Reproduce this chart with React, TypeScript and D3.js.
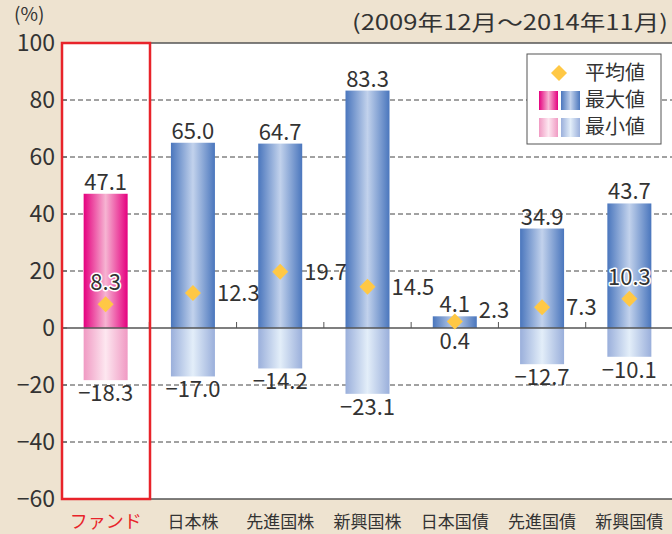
import React from 'react';
import * as d3 from 'd3';

const categories = ['ファンド', '日本株', '先進国株', '新興国株', '日本国債', '先進国債', '新興国債'];
const maxVals = [47.1, 65.0, 64.7, 83.3, 4.1, 34.9, 43.7];
const minVals = [-18.3, -17.0, -14.2, -23.1, 0.4, -12.7, -10.1];
const meanVals = [8.3, 12.3, 19.7, 14.5, 2.3, 7.3, 10.3];
const yTicks = [100, 80, 60, 40, 20, 0, -20, -40, -60];

const W = 672, H = 534;
const L = 62, R = 673, T = 43, B = 499;
const FONT = "'Noto Sans CJK JP', 'Noto Sans', sans-serif";

const fmt = (v: number) => (v < 0 ? '−' + Math.abs(v).toFixed(1) : v.toFixed(1));

export default function App() {
  const x = d3.scaleBand<string>().domain(categories).range([L, R]);
  const y = d3.scaleLinear().domain([-60, 100]).range([B, T]);
  const bw = 44;
  const y0 = y(0);
  const diamond = (cx: number, cy: number, r: number) =>
    `M${cx},${cy - r}L${cx + r},${cy}L${cx},${cy + r}L${cx - r},${cy}Z`;

  const grad = (id: string, edge: string, mid: string) => (
    <linearGradient id={id} x1="0" x2="1" y1="0" y2="0">
      <stop offset="0" stopColor={edge} />
      <stop offset="0.5" stopColor={mid} />
      <stop offset="1" stopColor={edge} />
    </linearGradient>
  );

  return (
    <svg width={W} height={H} style={{ position: 'absolute', left: 0, top: 0, display: 'block' }}>
      <defs>
        {grad('bmax', '#4A76BD', '#C2D2EC')}
        {grad('pmax', '#E5007F', '#F6B4D2')}
        {grad('bmin', '#9AAFDB', '#E3EEF9')}
        {grad('pmin', '#F09AC3', '#FDE7F0')}
      </defs>
      <rect x={0} y={0} width={W} height={H} fill="#EEE3D0" />
      <rect x={L} y={T} width={R - L} height={B - T} fill="#fff" />
      {/* gridlines */}
      {yTicks.filter(t => t !== 0 && t !== 100 && t !== -60).map(t => (
        <line key={t} x1={L} x2={R} y1={y(t)} y2={y(t)} stroke="#444" strokeWidth={1} strokeDasharray="5,3" />
      ))}
      {/* frame top / bottom */}
      <line x1={L} x2={R} y1={T} y2={T} stroke="#555" strokeWidth={1.5} />
      <line x1={L} x2={R} y1={B} y2={B} stroke="#555" strokeWidth={1.5} />
      {/* left ticks */}
      {yTicks.map(t => (
        <line key={'lt' + t} x1={L} x2={L + 5} y1={y(t)} y2={y(t)} stroke="#555" strokeWidth={1} />
      ))}
      {/* y labels */}
      {yTicks.map(t => (
        <text key={'yl' + t} x={55} y={y(t)} dy="0.36em" textAnchor="end" fontFamily={FONT} fontSize={23} fill="#333">
          {t < 0 ? '−' + Math.abs(t) : t}
        </text>
      ))}
      <text x={14} y={14} dy="0.36em" fontFamily={FONT} fontSize={19} fill="#333">(%)</text>
      <text x={352} y={22} dy="0.36em" textLength={316} lengthAdjust="spacingAndGlyphs" fontFamily={FONT} fontSize={21} fill="#333">(2009年12月～2014年11月)</text>
      {/* bars */}
      {categories.map((c, i) => {
        const cx = (x(c) as number) + x.bandwidth() / 2;
        const isFund = i === 0;
        const minV = minVals[i];
        return (
          <g key={c}>
            <rect x={cx - bw / 2} width={bw} y={Math.min(y(minV), y0)} height={Math.abs(y(minV) - y0)} fill={`url(#${isFund ? 'pmin' : 'bmin'})`} />
            <rect x={cx - bw / 2} width={bw} y={y(maxVals[i])} height={y0 - y(maxVals[i])} fill={`url(#${isFund ? 'pmax' : 'bmax'})`} />
          </g>
        );
      })}
      {/* zero line */}
      <line x1={L} x2={R} y1={y0} y2={y0} stroke="#555" strokeWidth={1.5} />
      {categories.slice(1).map((c) => (
        <line key={'zt' + c} x1={x(c) as number} x2={x(c) as number} y1={y0} y2={y0 - 6} stroke="#555" strokeWidth={1} />
      ))}
      {/* labels */}
      {categories.map((c, i) => {
        const cx = (x(c) as number) + x.bandwidth() / 2;
        const inside = i === 0 || i === categories.length - 1;
        const my = y(meanVals[i]);
        const minLabelY = Math.max(y(minVals[i]), y0);
        return (
          <g key={'lab' + c} fontFamily={FONT} fontSize={22} fill="#333">
            <text x={cx} y={y(maxVals[i]) - 4} textAnchor="middle">{fmt(maxVals[i])}</text>
            <text x={cx} y={minLabelY + 21} textAnchor="middle">{fmt(minVals[i])}</text>
            <path d={diamond(cx, my, 8)} fill="#FFC845" />
            {inside ? (
              <text x={cx} y={my - 22} dy="0.36em" textAnchor="middle" stroke="#fff" strokeWidth={3} paintOrder="stroke" strokeLinejoin="round">
                {fmt(meanVals[i])}
              </text>
            ) : (
              <text x={cx + bw / 2 + 2} y={Math.min(my, y0 - 18)} dy="0.36em" textAnchor="start">{fmt(meanVals[i])}</text>
            )}
          </g>
        );
      })}
      {/* category labels */}
      {categories.map((c, i) => (
        <text key={'cl' + c} x={(x(c) as number) + x.bandwidth() / 2} y={522} dy="0.36em" textAnchor="middle" fontFamily={FONT} fontSize={i === 0 ? 18 : 17} fill={i === 0 ? '#E8232A' : '#333'}>
          {c}
        </text>
      ))}
      {/* red box */}
      <rect x={L} y={T} width={88} height={B - T} fill="none" stroke="#E8232A" strokeWidth={2.5} />
      {/* legend */}
      <g fontFamily={FONT} fontSize={20} fill="#333">
        <rect x={527} y={54} width={134} height={90} fill="#fff" stroke="#555" strokeWidth={1} />
        <path d={diamond(559, 73, 8)} fill="#FFC845" />
        <text x={585} y={73} dy="0.36em">平均値</text>
        <rect x={539} y={91} width={19} height={19} fill="url(#pmax)" />
        <rect x={561} y={91} width={19} height={19} fill="url(#bmax)" />
        <text x={585} y={100} dy="0.36em">最大値</text>
        <rect x={539} y={118} width={19} height={19} fill="url(#pmin)" />
        <rect x={561} y={118} width={19} height={19} fill="url(#bmin)" />
        <text x={585} y={127} dy="0.36em">最小値</text>
      </g>
    </svg>
  );
}
